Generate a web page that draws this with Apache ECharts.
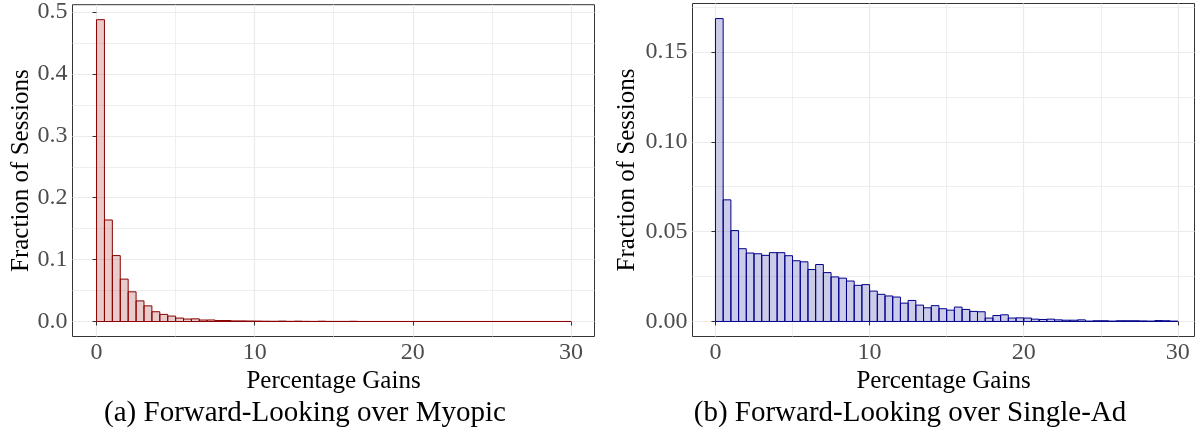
<!DOCTYPE html>
<html>
<head>
<meta charset="utf-8">
<script src="https://cdn.jsdelivr.net/npm/echarts@6/dist/echarts.min.js"></script>
<style>
html,body{margin:0;padding:0;background:#fff;}
#chart{width:1201px;height:446px;}
</style>
</head>
<body>
<div id="chart"></div>
<script>
// Histogram bins: width 0.5 from 0 to 30 (percentage gains)
const binWidth = 0.5;
const xTicks = [0, 10, 20, 30];
const xMinorTicks = [5, 15, 25];
const yTicksA = [0, 0.1, 0.2, 0.3, 0.4, 0.5];
const yMinorA = [0.05, 0.15, 0.25, 0.35, 0.45];
const yTicksB = [0, 0.05, 0.10, 0.15];
const yMinorB = [0.025, 0.075, 0.125, 0.175];

// (a) Forward-Looking over Myopic
const fracMyopic = [
  0.4876, 0.164, 0.1065, 0.0685, 0.048, 0.0333, 0.0253, 0.0158, 0.0115, 0.0088,
  0.0056, 0.004, 0.0043, 0.0024, 0.0025, 0.0016, 0.0016, 0.001, 0.001, 0.0008,
  0.0007, 0.0005, 0.0004, 0.0007, 0.0003, 0.0006, 0.0003, 0.0002, 0.0005, 0.0002,
  0.0002, 0.0002, 0.0004, 0.0001, 0.0001, 0.0001, 0.0001, 0.0001, 0.0001, 0.0001,
  0.0001, 0.0001, 0.0001, 0.0001, 0.0001, 0.0001, 0.0001, 0.0001, 0.0001, 0.0001,
  0.0001, 0.0001, 0.0001, 0.0001, 0.0001, 0.0001, 0.0001, 0.0001, 0.0001, 0.0001
];
// (b) Forward-Looking over Single-Ad
const fracSingleAd = [
  0.1686, 0.0677, 0.0506, 0.0405, 0.0381, 0.0377, 0.0368, 0.0383, 0.0383, 0.0366,
  0.0338, 0.0332, 0.0289, 0.0317, 0.0272, 0.0248, 0.0241, 0.0225, 0.0201, 0.0205,
  0.0169, 0.0151, 0.0142, 0.0136, 0.0102, 0.0117, 0.0091, 0.0076, 0.0088, 0.0071,
  0.0063, 0.008, 0.0067, 0.0056, 0.0054, 0.0019, 0.0033, 0.0037, 0.0019, 0.002,
  0.0019, 0.0013, 0.0011, 0.0013, 0.0009, 0.0007, 0.0007, 0.0009, 0.0002, 0.0004,
  0.0004, 0.0002, 0.0004, 0.0004, 0.0004, 0.0003, 0.0002, 0.0005, 0.0004, 0.0002
];
const xTitle = 'Percentage Gains';
const yTitle = 'Fraction of Sessions';
const captionA = '(a) Forward-Looking over Myopic';
const captionB = '(b) Forward-Looking over Single-Ad';

const FONT = '"Liberation Serif", "DejaVu Serif", serif';
const TICKCOL = '#4D4D4D';
const GRIDCOL = '#EBEBEB';

function toBins(vals) {
  return vals.map((v, i) => [i * binWidth, (i + 1) * binWidth, v]);
}

function xAxesFor(gridIndex, min, max) {
  return [
    {
      type: 'value', gridIndex, min, max,
      name: xTitle, nameLocation: 'middle', nameGap: 29,
      nameTextStyle: { fontFamily: FONT, fontSize: 25, color: '#000' },
      axisLine: { show: false },
      axisTick: { show: true, length: 4, lineStyle: { color: '#333', width: 1 }, customValues: xTicks },
      axisLabel: { fontFamily: FONT, fontSize: 24, color: TICKCOL, margin: 4, customValues: xTicks },
      splitLine: { show: true, lineStyle: { color: GRIDCOL, width: 1.2 } }
    },
    {
      type: 'value', gridIndex, min, max,
      axisLine: { show: false },
      axisTick: { show: false, customValues: xMinorTicks },
      axisLabel: { show: false, customValues: xMinorTicks },
      splitLine: { show: true, lineStyle: { color: GRIDCOL, width: 0.8 } }
    }
  ];
}

function yAxesFor(gridIndex, min, max, ticks, minor, decimals, nameGap) {
  return [
    {
      type: 'value', gridIndex, min, max,
      name: yTitle, nameLocation: 'middle', nameGap,
      nameTextStyle: { fontFamily: FONT, fontSize: 25, color: '#000' },
      axisLine: { show: false },
      axisTick: { show: true, length: 4, lineStyle: { color: '#333', width: 1 }, customValues: ticks },
      axisLabel: {
        fontFamily: FONT, fontSize: 24, color: TICKCOL, margin: 5, customValues: ticks,
        formatter: v => Number(v).toFixed(decimals)
      },
      splitLine: { show: true, lineStyle: { color: GRIDCOL, width: 1.2 } }
    },
    {
      type: 'value', gridIndex, min, max,
      axisLine: { show: false },
      axisTick: { show: false, customValues: minor },
      axisLabel: { show: false, customValues: minor },
      splitLine: { show: true, lineStyle: { color: GRIDCOL, width: 0.8 } }
    }
  ];
}

function histSeries(xi, yi, vals, fill, stroke) {
  return {
    type: 'custom',
    xAxisIndex: xi, yAxisIndex: yi,
    data: toBins(vals),
    z: 10,
    renderItem: function (params, api) {
      const p0 = api.coord([api.value(0), 0]);
      const p1 = api.coord([api.value(1), api.value(2)]);
      return {
        type: 'rect',
        shape: { x: p0[0], y: p1[1], width: p1[0] - p0[0], height: p0[1] - p1[1] },
        style: { fill: fill, stroke: stroke, lineWidth: 1 }
      };
    }
  };
}

const chart = echarts.init(document.getElementById('chart'), null, { renderer: 'canvas' });
const xa = xAxesFor(0, -1.52, 31.49).concat(xAxesFor(1, -1.49, 31.08));
const ya = yAxesFor(0, -0.0242, 0.5118, yTicksA, yMinorA, 1, 39)
  .concat(yAxesFor(1, -0.00837, 0.177, yTicksB, yMinorB, 2, 53));

chart.setOption({
  animation: false,
  backgroundColor: '#fff',
  title: [
    { text: captionA, left: 300, top: 394, textAlign: 'center',
      textStyle: { fontFamily: FONT, fontSize: 29, fontWeight: 'normal', color: '#000' } },
    { text: captionB, left: 905, top: 394, textAlign: 'center',
      textStyle: { fontFamily: FONT, fontSize: 29, fontWeight: 'normal', color: '#000' } }
  ],
  grid: [
    { left: 72.5, top: 3.5, width: 522, height: 333, show: true, borderColor: '#333', borderWidth: 1, backgroundColor: 'transparent' },
    { left: 692.5, top: 3.5, width: 502, height: 333, show: true, borderColor: '#333', borderWidth: 1, backgroundColor: 'transparent' }
  ],
  xAxis: xa,
  yAxis: ya,
  series: [
    histSeries(0, 0, fracMyopic, 'rgba(139,0,0,0.2)', '#8B0000'),
    histSeries(2, 2, fracSingleAd, 'rgba(0,0,139,0.2)', '#00008B')
  ]
});
</script>
</body>
</html>
